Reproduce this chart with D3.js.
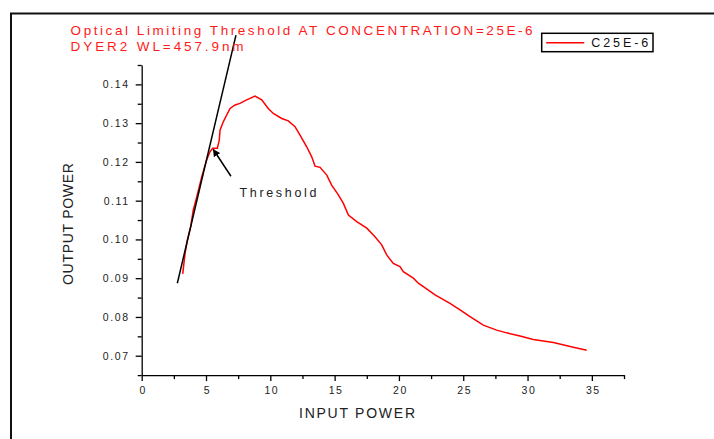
<!DOCTYPE html>
<html>
<head>
<meta charset="utf-8">
<script src="https://cdn.jsdelivr.net/npm/d3@7"></script>
<style>
body { margin: 0; background: #fff; }
text { font-family: "Liberation Sans", Arial, sans-serif; }
.axis path, .axis line { stroke: #000; stroke-width: 1.3px; }
.axis text { font-size: 10.5px; letter-spacing: 1.6px; fill: #222; }
</style>
</head>
<body>
<div id="chart"></div>
<script>
// values
var inputPower = [3.19, 3.37, 3.55, 3.81, 4.01, 4.22, 4.48, 4.67, 5.05, 5.31, 5.52, 5.88, 6.03, 6.09,
    6.35, 6.61, 6.87, 7.26, 7.64, 8.16, 8.42, 8.81, 9.33, 9.84, 10.23, 10.89, 11.40, 11.92, 12.31,
    12.83, 13.22, 13.48, 13.87, 14.39, 14.77, 15.29, 15.68, 16.07, 16.72, 17.50, 18.14, 18.66,
    19.05, 19.56, 20.08, 20.34, 21.12, 21.51, 21.90, 22.81, 23.97, 24.75, 25.53, 26.56, 27.60,
    28.38, 29.42, 30.45, 31.23, 32.01, 33.56, 34.35, 34.60];
var outputPower = [0.0911, 0.0964, 0.0998, 0.1033, 0.1076, 0.1102, 0.1136, 0.1162, 0.1205, 0.1226,
    0.1235, 0.1235, 0.1256, 0.1282, 0.1304, 0.1321, 0.1338, 0.1347, 0.1351, 0.1360, 0.1364, 0.1370,
    0.1360, 0.1338, 0.1325, 0.1312, 0.1306, 0.1291, 0.1269, 0.1239, 0.1213, 0.1189, 0.1186, 0.1166,
    0.1140, 0.1115, 0.1093, 0.1063, 0.1046, 0.1029, 0.1007, 0.0986, 0.0960, 0.0938, 0.0930, 0.0917,
    0.0900, 0.0887, 0.0878, 0.0857, 0.0835, 0.0818, 0.0801, 0.0779, 0.0766, 0.0759, 0.0751, 0.0742,
    0.0738, 0.0734, 0.0722, 0.0716, 0.0714];

// hand drawn tangent line and the arrow pointing at the threshold
var fitX = [2.77, 7.33];
var fitY = [0.0887, 0.1527];
var arrowX = [6.94, 5.57];
var arrowY = [0.1163, 0.1232];

var xTicks = [0, 5, 10, 15, 20, 25, 30, 35];
var xMinor = [2.5, 7.5, 12.5, 17.5, 22.5, 27.5, 32.5, 37.5];
var yTicks = [0.07, 0.08, 0.09, 0.10, 0.11, 0.12, 0.13, 0.14];
var yMinor = [0.065, 0.075, 0.085, 0.095, 0.105, 0.115, 0.125, 0.135, 0.145];

var titleLines = ["Optical Limiting Threshold  AT CONCENTRATION=25E-6", "DYER2 WL=457.9nm"];
var seriesName = "C25E-6";

var width = 714, height = 439;

var x = d3.scaleLinear()
    .domain([0, 37.5])
    .range([141.7, 624]);

var y = d3.scaleLinear()
    .domain([0.065, 0.145])
    .range([375.1, 65]);

var svg = d3.select("#chart").append("svg")
    .attr("width", width)
    .attr("height", height);

// outer frame, runs off the right and bottom edges
svg.append("rect")
    .attr("x", 11).attr("y", 13.5)
    .attr("width", 720).attr("height", 440)
    .attr("fill", "none")
    .attr("stroke", "#111")
    .attr("stroke-width", 2);

svg.append("g")
    .attr("class", "axis")
    .attr("transform", "translate(0," + y.range()[0] + ")")
    .call(d3.axisBottom(x).tickValues(xMinor).tickSize(4).tickFormat(""))
    .select(".domain").remove();

svg.append("g")
    .attr("class", "axis axis--x")
    .attr("transform", "translate(0," + y.range()[0] + ")")
    .call(d3.axisBottom(x).tickValues(xTicks).tickSize(6).tickSizeOuter(0).tickPadding(5).tickFormat(d3.format("d")))
    .selectAll("text").attr("dx", "1px");

svg.append("g")
    .attr("class", "axis")
    .attr("transform", "translate(" + x.range()[0] + ",0)")
    .call(d3.axisLeft(y).tickValues(yMinor).tickSize(4).tickFormat(""))
    .select(".domain").remove();

svg.append("g")
    .attr("class", "axis axis--y")
    .attr("transform", "translate(" + x.range()[0] + ",0)")
    .call(d3.axisLeft(y).tickValues(yTicks).tickSize(6).tickSizeOuter(0).tickPadding(6).tickFormat(d3.format(".2f")));

// axis titles
svg.append("text")
    .attr("x", 357).attr("y", 418)
    .attr("text-anchor", "middle")
    .attr("font-size", 14)
    .attr("textLength", 116)
    .attr("fill", "#222")
    .text("INPUT POWER");

svg.append("text")
    .attr("transform", "translate(73,224) rotate(-90)")
    .attr("text-anchor", "middle")
    .attr("font-size", 14)
    .attr("textLength", 122)
    .attr("fill", "#222")
    .text("OUTPUT POWER");

// measured curve
var line = d3.line()
    .x(function(d, i) { return x(inputPower[i]); })
    .y(function(d, i) { return y(outputPower[i]); });

svg.append("path")
    .datum(inputPower)
    .attr("fill", "none")
    .attr("stroke", "#ff0000")
    .attr("stroke-width", 1.5)
    .attr("d", line);

svg.append("path")
    .datum(fitX)
    .attr("fill", "none")
    .attr("stroke", "#000")
    .attr("stroke-width", 1.5)
    .attr("d", d3.line()
        .x(function(d, i) { return x(fitX[i]); })
        .y(function(d, i) { return y(fitY[i]); }));

svg.append("defs").append("marker")
    .attr("id", "head")
    .attr("viewBox", "0 0 10 10")
    .attr("refX", 9).attr("refY", 5)
    .attr("markerWidth", 5).attr("markerHeight", 5)
    .attr("orient", "auto")
    .append("path")
    .attr("d", "M0,0L10,5L0,10Z")
    .attr("fill", "#000");

svg.append("line")
    .attr("x1", x(arrowX[0])).attr("y1", y(arrowY[0]))
    .attr("x2", x(arrowX[1])).attr("y2", y(arrowY[1]))
    .attr("stroke", "#000")
    .attr("stroke-width", 1.5)
    .attr("marker-end", "url(#head)");

svg.append("text")
    .attr("x", x(7.6)).attr("y", y(0.1109))
    .attr("font-size", 12.5)
    .attr("textLength", 77)
    .attr("fill", "#222")
    .text("Threshold");

// title in red, two lines
svg.selectAll(".title")
    .data(titleLines)
    .enter().append("text")
    .attr("class", "title")
    .attr("x", 70.6)
    .attr("y", function(d, i) { return 35 + i * 16; })
    .attr("font-size", 13.5)
    .attr("textLength", function(d, i) { return i === 0 ? 462 : 173; })
    .attr("fill", "#ff1a1a")
    .text(function(d) { return d; });

// legend
var legend = svg.append("g").attr("transform", "translate(541.7,33.3)");
legend.append("rect")
    .attr("width", 111.3).attr("height", 18.4)
    .attr("fill", "#fff")
    .attr("stroke", "#000")
    .attr("stroke-width", 1.5);
legend.append("line")
    .attr("x1", 4.5).attr("x2", 42.5)
    .attr("y1", 9.4).attr("y2", 9.4)
    .attr("stroke", "#ff0000")
    .attr("stroke-width", 1.5);
legend.append("text")
    .attr("x", 49.5).attr("y", 13.8)
    .attr("font-size", 12.5)
    .attr("textLength", 57)
    .attr("fill", "#111")
    .text(seriesName);
</script>
</body>
</html>
